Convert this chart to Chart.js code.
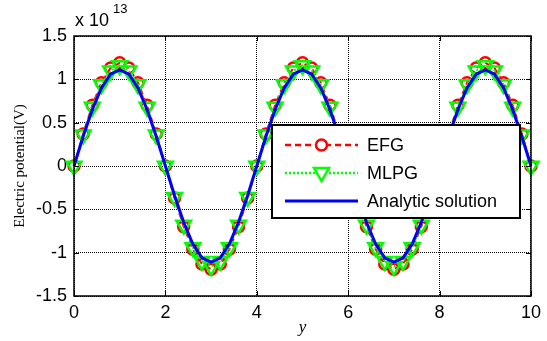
<!DOCTYPE html>
<html>
<head>
<meta charset="utf-8">
<script src="https://cdn.jsdelivr.net/npm/chart.js@4/dist/chart.umd.min.js"></script>
<style>
  html, body { margin:0; padding:0; background:#fff; }
  #wrap { width:547px; height:341px; }
</style>
</head>
<body>
<div id="wrap"><canvas id="c" width="547" height="341"></canvas></div>
<script>
// ---------------- DATA (values in units of 1e13 V) ----------------
const yPos = [0,0.2,0.4,0.6,0.8,1,1.2,1.4,1.6,1.8,2,2.2,2.4,2.6,2.8,3,3.2,3.4,3.6,3.8,
              4,4.2,4.4,4.6,4.8,5,5.2,5.4,5.6,5.8,6,6.2,6.4,6.6,6.8,7,7.2,7.4,7.6,7.8,
              8,8.2,8.4,8.6,8.8,9,9.2,9.4,9.6,9.8,10];

const efg = [0,0.37,0.70,0.96,1.13,1.19,1.13,0.96,0.70,0.37,
             0,-0.37,-0.70,-0.96,-1.13,-1.19,-1.13,-0.96,-0.70,-0.37,
             0,0.37,0.70,0.96,1.13,1.19,1.13,0.96,0.70,0.37,
             0,-0.37,-0.70,-0.96,-1.13,-1.19,-1.13,-0.96,-0.70,-0.37,
             0,0.37,0.70,0.96,1.13,1.19,1.13,0.96,0.70,0.37,0];

const mlpg = [0,0.36,0.68,0.94,1.10,1.16,1.10,0.94,0.68,0.36,
              0,-0.36,-0.68,-0.94,-1.10,-1.16,-1.10,-0.94,-0.68,-0.36,
              0,0.36,0.68,0.94,1.10,1.16,1.10,0.94,0.68,0.36,
              0,-0.36,-0.68,-0.94,-1.10,-1.16,-1.10,-0.94,-0.68,-0.36,
              0,0.36,0.68,0.94,1.10,1.16,1.10,0.94,0.68,0.36,0];

const analytic = [0,0.34,0.65,0.90,1.06,1.11,1.06,0.90,0.65,0.34,
                  0,-0.34,-0.65,-0.90,-1.06,-1.11,-1.06,-0.90,-0.65,-0.34,
                  0,0.34,0.65,0.90,1.06,1.11,1.06,0.90,0.65,0.34,
                  0,-0.34,-0.65,-0.90,-1.06,-1.11,-1.06,-0.90,-0.65,-0.34,
                  0,0.34,0.65,0.90,1.06,1.11,1.06,0.90,0.65,0.34,0];

const xTicks = [0,2,4,6,8,10];
const yTicks = [-1.5,-1,-0.5,0,0.5,1,1.5];
const seriesNames = ["EFG","MLPG","Analytic solution"];

function pts(arr){ return arr.map((v,i)=>({x:yPos[i], y:v})); }

const SANS = "'Liberation Sans', Arial, sans-serif";
const SERIF = "'Liberation Serif', 'Times New Roman', serif";

// ---------------- EXTRA DRAWING (box, inward ticks, exponent, legend) ----------------
const matlabBits = {
  id:'matlabBits',
  afterDraw(chart){
    const ctx = chart.ctx, a = chart.chartArea;
    const xs = chart.scales.x, ys = chart.scales.y;
    ctx.save();
    ctx.strokeStyle = '#000';
    ctx.lineWidth = 1.5;
    ctx.setLineDash([]);
    ctx.strokeRect(a.left, a.top, a.right - a.left, a.bottom - a.top);
    ctx.lineWidth = 1;
    ctx.beginPath();
    xTicks.forEach(t=>{
      const px = Math.round(xs.getPixelForValue(t)) + 0.5;
      ctx.moveTo(px, a.bottom); ctx.lineTo(px, a.bottom - 5);
      ctx.moveTo(px, a.top); ctx.lineTo(px, a.top + 5);
    });
    yTicks.forEach(t=>{
      const py = Math.round(ys.getPixelForValue(t)) + 0.5;
      ctx.moveTo(a.left, py); ctx.lineTo(a.left + 5, py);
      ctx.moveTo(a.right, py); ctx.lineTo(a.right - 5, py);
    });
    ctx.stroke();

    // exponent label
    ctx.fillStyle = '#000';
    ctx.textBaseline = 'alphabetic';
    ctx.textAlign = 'left';
    ctx.font = '18px ' + SANS;
    ctx.fillText('x 10', 75, 26);
    ctx.font = '13px ' + SANS;
    ctx.fillText('13', 113, 13);

    // legend
    const lx = 272, ly = 125, lw = 248, lh = 93;
    ctx.fillStyle = '#fff';
    ctx.fillRect(lx, ly, lw, lh);
    ctx.strokeStyle = '#000';
    ctx.lineWidth = 2;
    ctx.strokeRect(lx, ly, lw, lh);
    const rows = [145, 173, 201];
    const x1 = 285, x2 = 358, xm = 321.5;
    // EFG
    ctx.lineWidth = 2.5;
    ctx.strokeStyle = '#ff0000';
    ctx.setLineDash([6,4]);
    ctx.beginPath(); ctx.moveTo(x1, rows[0]); ctx.lineTo(x2, rows[0]); ctx.stroke();
    ctx.setLineDash([]);
    ctx.fillStyle = '#fff';
    ctx.beginPath(); ctx.arc(xm, rows[0], 5.5, 0, Math.PI*2); ctx.fill(); ctx.stroke();
    // MLPG
    ctx.strokeStyle = '#00ff00';
    ctx.setLineDash([2,2]);
    ctx.beginPath(); ctx.moveTo(x1, rows[1]); ctx.lineTo(x2, rows[1]); ctx.stroke();
    ctx.setLineDash([]);
    ctx.beginPath();
    ctx.moveTo(xm - 7.5, rows[1] - 5); ctx.lineTo(xm + 7.5, rows[1] - 5); ctx.lineTo(xm, rows[1] + 8);
    ctx.closePath(); ctx.fill(); ctx.stroke();
    // Analytic
    ctx.strokeStyle = '#0000ff';
    ctx.lineWidth = 3;
    ctx.beginPath(); ctx.moveTo(x1, rows[2]); ctx.lineTo(x2, rows[2]); ctx.stroke();

    ctx.fillStyle = '#000';
    ctx.font = '18px ' + SANS;
    ctx.textBaseline = 'middle';
    seriesNames.forEach((n,i)=>ctx.fillText(n, 367, rows[i] + 1));
    ctx.restore();
  }
};

new Chart(document.getElementById('c'), {
  type:'line',
  data:{
    datasets:[
      { label:seriesNames[2], data:pts(analytic), order:0,
        borderColor:'#0000ff', borderWidth:3, pointRadius:0, fill:false, tension:0, clip:false },
      { label:seriesNames[1], data:pts(mlpg), order:1,
        borderColor:'#00ff00', borderWidth:2, borderDash:[2,2],
        pointStyle:'triangle', rotation:180, pointRadius:8.5, pointBorderWidth:2.5,
        pointBorderColor:'#00ff00', pointBackgroundColor:'rgba(0,0,0,0)', fill:false, clip:false },
      { label:seriesNames[0], data:pts(efg), order:2,
        borderColor:'#ff0000', borderWidth:2, borderDash:[6,4],
        pointStyle:'circle', pointRadius:5.5, pointBorderWidth:2.5,
        pointBorderColor:'#ff0000', pointBackgroundColor:'rgba(0,0,0,0)', fill:false, clip:false }
    ]
  },
  options:{
    responsive:false,
    animation:false,
    devicePixelRatio:1,
    layout:{ padding:{ top:36, right:13, left:0, bottom:0 } },
    plugins:{ legend:{ display:false }, tooltip:{ enabled:false } },
    scales:{
      x:{
        type:'linear', min:0, max:10,
        afterBuildTicks: s => { s.ticks = xTicks.map(v=>({value:v})); },
        afterFit: s => { s.height = 45; },
        ticks:{ color:'#000', font:{ family:SANS, size:18 }, padding:6 },
        grid:{ color:'#000', lineWidth:1, drawTicks:false },
        border:{ display:false, dash:[1,1] },
        title:{ display:true, text:'y', color:'#000', padding:{top:0,bottom:3},
                font:{ family:SERIF, size:17, style:'italic' } }
      },
      y:{
        type:'linear', min:-1.5, max:1.5,
        afterBuildTicks: s => { s.ticks = yTicks.map(v=>({value:v})); },
        afterFit: s => { s.width = 74; },
        ticks:{ color:'#000', font:{ family:SANS, size:18 }, padding:7,
                callback: v => String(v) },
        grid:{ color:'#000', lineWidth:1, drawTicks:false },
        border:{ display:false, dash:[1,1] },
        title:{ display:true, text:'Electric potential(V)', color:'#000', padding:{top:11,bottom:0},
                font:{ family:SERIF, size:15 } }
      }
    }
  },
  plugins:[matlabBits]
});
</script>
</body>
</html>
